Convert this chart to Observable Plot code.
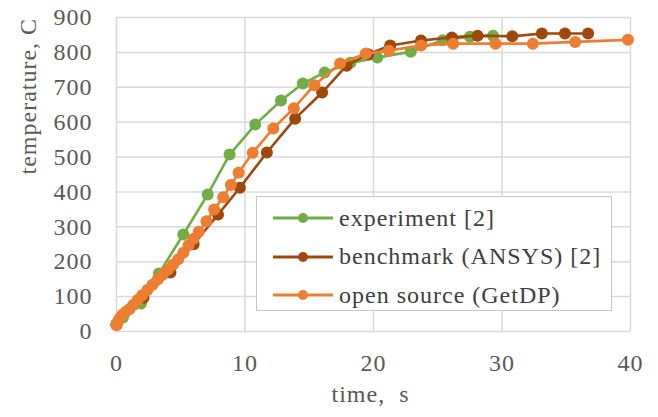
<!DOCTYPE html>
<html>
<head>
<meta charset="utf-8">
<script src="https://cdn.jsdelivr.net/npm/d3@7"></script>
<script src="https://cdn.jsdelivr.net/npm/@observablehq/plot@0.6"></script>
<style>
  html, body { margin: 0; padding: 0; background: #fff; }
  #wrap { position: relative; width: 658px; height: 417px; font-family: "Liberation Serif", "Times New Roman", serif; }
  #legend { position: absolute; left: 256px; top: 196px; width: 356px; height: 115px; background: #fff; border: 1.5px solid #c8c8c8; box-sizing: border-box; padding-top: 2px; }
  .row { display: flex; align-items: center; height: 38.5px; }
  .row svg { margin-left: 16px; margin-right: 6px; }
  .row span { font-size: 24px; letter-spacing: 1px; color: #404040; white-space: pre; }
</style>
</head>
<body>
<div id="wrap"></div>
<script>
// ---- data ----
const seriesNames = ["experiment [2]", "benchmark (ANSYS) [2]", "open source (GetDP)"];
const seriesColors = ["#70ad47", "#9e480e", "#ed7d31"];

const expT = [0, 0.5, 1.9, 3.3, 5.2, 7.1, 8.8, 10.8, 12.8, 14.5, 16.2, 18.2, 20.3, 22.9, 25.4, 27.5, 29.3];
const expV = [20, 40, 80, 166, 278, 393, 507, 593, 662, 711, 742, 770, 785, 802, 835, 845, 848];

const benT = [0, 2.1, 4.2, 6.0, 7.9, 9.6, 11.7, 13.9, 16.0, 17.9, 19.6, 21.3, 23.7, 26.1, 28.1, 30.8, 33.1, 34.9, 36.7];
const benV = [20, 97, 169, 250, 335, 412, 513, 610, 685, 762, 795, 820, 834, 843, 848, 846, 854, 854, 854];

const gdpT = [0, 0.1, 0.25, 0.45, 0.7, 1.0, 1.3, 1.65, 2.0, 2.4, 2.8, 3.2, 3.6, 4.0, 4.4, 4.8, 5.2, 5.6, 6.0, 6.4, 7.0, 7.6, 8.3, 8.9, 9.5, 10.6, 12.2, 13.8, 15.4, 17.4, 19.4, 21.2, 23.7, 26.2, 29.5, 32.4, 35.7, 39.8];
const gdpV = [18, 28, 38, 48, 56, 64, 76, 90, 104, 119, 134, 149, 163, 177, 191, 207, 226, 247, 266, 286, 316, 350, 385, 420, 455, 512, 582, 640, 706, 768, 797, 805, 820, 825, 825, 825, 830, 836];

const xTicks = [0, 10, 20, 30, 40];
const yTicks = [0, 100, 200, 300, 400, 500, 600, 700, 800, 900];
const xLabel = "time,\u00a0 s";
const yLabel = "temperature, C";

const rows = (ts, vs) => ts.map((t, i) => ({t, v: vs[i]}));
const series = [rows(expT, expV), rows(benT, benV), rows(gdpT, gdpV)];

const marks = [
  Plot.gridX(xTicks, {stroke: "#d9d9d9", strokeOpacity: 1, strokeWidth: 1.5}),
  Plot.gridY(yTicks, {stroke: "#d9d9d9", strokeOpacity: 1, strokeWidth: 1.5}),
  Plot.axisX(xTicks, {tickSize: 0, tickPadding: 22, fill: "#595959", label: null, fontSize: 24}),
  Plot.axisY(yTicks, {tickSize: 0, tickPadding: 24, fill: "#595959", label: null, fontSize: 24}),
  Plot.text([xLabel], {frameAnchor: "bottom", dy: 70, dx: -3, fill: "#595959", fontSize: 24}),
  Plot.text([yLabel], {frameAnchor: "left", rotate: -90, dx: -88, fill: "#595959", fontSize: 24})
];
series.forEach((d, i) => {
  marks.push(Plot.line(d, {x: "t", y: "v", stroke: seriesColors[i], strokeWidth: 2.6}));
  marks.push(Plot.dot(d, {x: "t", y: "v", fill: seriesColors[i], r: 6}));
});

const chart = Plot.plot({
  width: 658,
  height: 417,
  marginLeft: 116,
  marginRight: 28,
  marginTop: 17,
  marginBottom: 86,
  x: {domain: [0, 40]},
  y: {domain: [0, 900]},
  style: {fontFamily: "'Liberation Serif', 'Times New Roman', serif", fontSize: "24px", background: "#fff", letterSpacing: "1px"},
  marks
});

const wrap = document.getElementById("wrap");
wrap.appendChild(chart);

// legend
const legend = document.createElement("div");
legend.id = "legend";
seriesNames.forEach((name, i) => {
  const row = document.createElement("div");
  row.className = "row";
  row.innerHTML = `<svg width="60" height="14"><line x1="0" x2="60" y1="7" y2="7" stroke="${seriesColors[i]}" stroke-width="3"/><circle cx="30" cy="7" r="5" fill="${seriesColors[i]}"/></svg><span>${name}</span>`;
  legend.appendChild(row);
});
wrap.appendChild(legend);
</script>
</body>
</html>
